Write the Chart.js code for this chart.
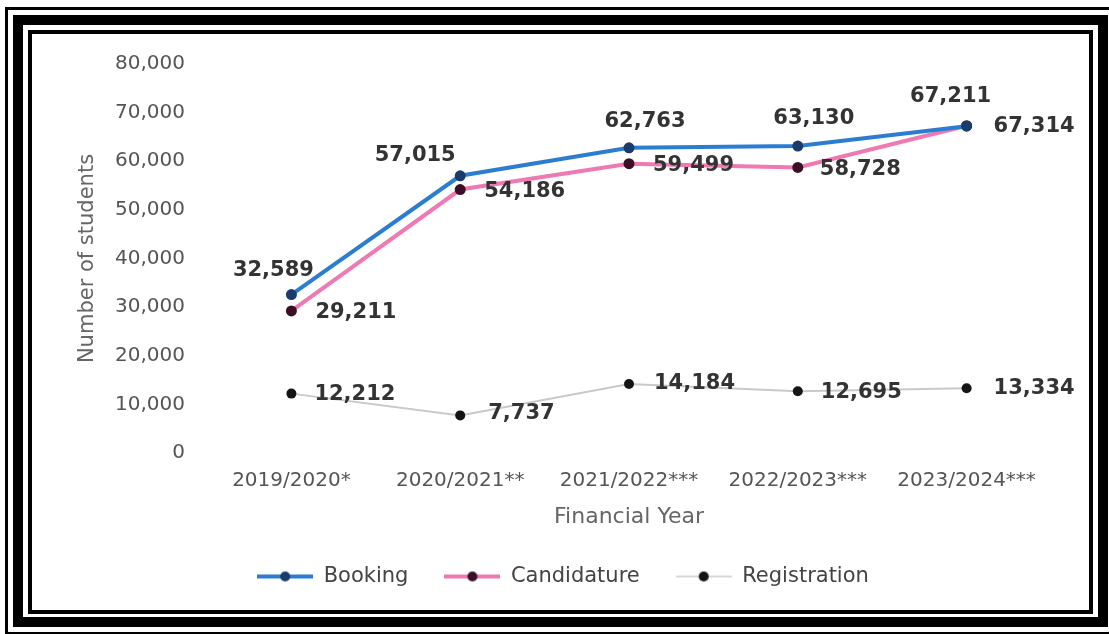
<!DOCTYPE html>
<html>
<head>
<meta charset="utf-8">
<title>Number of students by financial year</title>
<script src="https://cdn.jsdelivr.net/npm/chart.js@4.4.1/dist/chart.umd.min.js"></script>
<style>
  html, body { margin: 0; padding: 0; background: #fff; overflow: hidden; }
  #wrap { position: relative; width: 1109px; height: 634px; }
  canvas { position: absolute; left: 0; top: 0; }
  .frame { position: absolute; box-sizing: border-box; border-style: solid; border-color: #000; pointer-events: none; }
  #f1 { left: 5px; top: 7px; width: 1111px; height: 628px; border-width: 3px; }
  #f2 { left: 13px; top: 15px; width: 1095px; height: 612px; border-width: 10px; }
  #f3 { left: 28px; top: 30px; width: 1065px; height: 584px; border-width: 4px; }
</style>
</head>
<body>
<div id="wrap">
  <canvas id="chart" width="1109" height="634"></canvas>
  <div class="frame" id="f1"></div>
  <div class="frame" id="f2"></div>
  <div class="frame" id="f3"></div>
</div>
<script>
// Financial years and student counts per stage
const years = ['2019/2020*', '2020/2021**', '2021/2022***', '2022/2023***', '2023/2024***'];
const booking = [32589, 57015, 62763, 63130, 67211];
const candidature = [29211, 54186, 59499, 58728, 67314];
const registration = [12212, 7737, 14184, 12695, 13334];
const yTicks = [0, 10000, 20000, 30000, 40000, 50000, 60000, 70000, 80000];

const FONT = "'DejaVu Sans', 'Liberation Sans', sans-serif";
const fmt = v => v.toLocaleString('en-US');

// Value label placement per series: [dx, dy, align]
const labelPlacement = {
  Booking: [[-18, -24, 'center'], [-45, -20, 'center'], [16, -26, 'center'], [16, -27, 'center'], [-16, -30, 'center']],
  Candidature: [[24, 2, 'left'], [24, 2, 'left'], [24, 2, 'left'], [22, 2, 'left'], [27, 1, 'left']],
  Registration: [[23, 1, 'left'], [28, -2, 'left'], [25, 0, 'left'], [23, 1, 'left'], [27, 0, 'left']]
};

// Legend swatch: short line with a dot in the middle
function swatch(lineColor, lineWidth, dotColor, dotR) {
  const c = document.createElement('canvas');
  c.width = 56; c.height = 14;
  const g = c.getContext('2d');
  g.strokeStyle = lineColor; g.lineWidth = lineWidth;
  g.beginPath(); g.moveTo(0, 7); g.lineTo(56, 7); g.stroke();
  g.fillStyle = dotColor;
  g.beginPath(); g.arc(28, 7, dotR, 0, Math.PI * 2); g.fill();
  return c;
}

const series = [
  { label: 'Booking', data: booking, line: '#2b7dd2', width: 4, dot: '#1a3c6c', r: 5.5, lw: 4 },
  { label: 'Candidature', data: candidature, line: '#ef79b2', width: 4, dot: '#3b1025', r: 5.5, lw: 4 },
  { label: 'Registration', data: registration, line: '#c9c9cc', width: 2, dot: '#151515', r: 5, lw: 1.5 }
];
const swatches = series.map(s => swatch(s.line, s.lw, s.dot, 5));

const valueLabels = {
  id: 'valueLabels',
  afterDatasetsDraw(chart) {
    const ctx = chart.ctx;
    ctx.save();
    ctx.font = 'bold 21px ' + FONT;
    ctx.fillStyle = '#333';
    ctx.textBaseline = 'middle';
    chart.data.datasets.forEach((ds, i) => {
      const meta = chart.getDatasetMeta(i);
      const place = labelPlacement[ds.label];
      meta.data.forEach((pt, j) => {
        const [dx, dy, align] = place[j];
        ctx.textAlign = align;
        ctx.fillText(fmt(ds.data[j]), pt.x + dx, pt.y + dy);
      });
    });
    ctx.restore();
  }
};

new Chart(document.getElementById('chart'), {
  type: 'line',
  data: {
    labels: years,
    datasets: series.map(s => ({
      label: s.label,
      data: s.data,
      borderColor: s.line,
      backgroundColor: s.line,
      borderWidth: s.width,
      pointRadius: s.r,
      pointHoverRadius: s.r,
      pointBackgroundColor: s.dot,
      pointBorderColor: s.dot,
      pointBorderWidth: 0,
      tension: 0,
      fill: false
    }))
  },
  options: {
    responsive: false,
    animation: false,
    events: [],
    layout: { padding: { left: 75, right: 58, top: 64, bottom: 37 } },
    font: { family: FONT },
    scales: {
      x: {
        offset: true,
        grid: { display: false, drawTicks: false },
        border: { display: false },
        ticks: { color: '#555', font: { family: FONT, size: 20 }, padding: 16, maxRotation: 0, autoSkip: false },
        title: { display: true, text: 'Financial Year', color: '#666', font: { family: FONT, size: 22 }, padding: 0 },
        afterFit: s => { s.height = 77; }
      },
      y: {
        min: 0, max: 80000,
        afterBuildTicks: s => { s.ticks = yTicks.map(v => ({ value: v })); },
        grid: { display: false, drawTicks: false },
        border: { display: false },
        ticks: { color: '#555', font: { family: FONT, size: 20 }, padding: 22, callback: v => fmt(v) },
        title: { display: true, text: 'Number of students', color: '#666', font: { family: FONT, size: 21 }, padding: 0 },
        afterFit: s => { s.width = 132; }
      }
    },
    plugins: {
      tooltip: { enabled: false },
      legend: {
        position: 'bottom',
        labels: {
          usePointStyle: true,
          pointStyleWidth: 56,
          padding: 36,
          color: '#444',
          font: { family: FONT, size: 21 },
          generateLabels: chart => Chart.defaults.plugins.legend.labels.generateLabels(chart)
            .map((item, i) => Object.assign(item, { pointStyle: swatches[i], fontColor: '#444' }))
        }
      }
    }
  },
  plugins: [valueLabels]
});
</script>
</body>
</html>
